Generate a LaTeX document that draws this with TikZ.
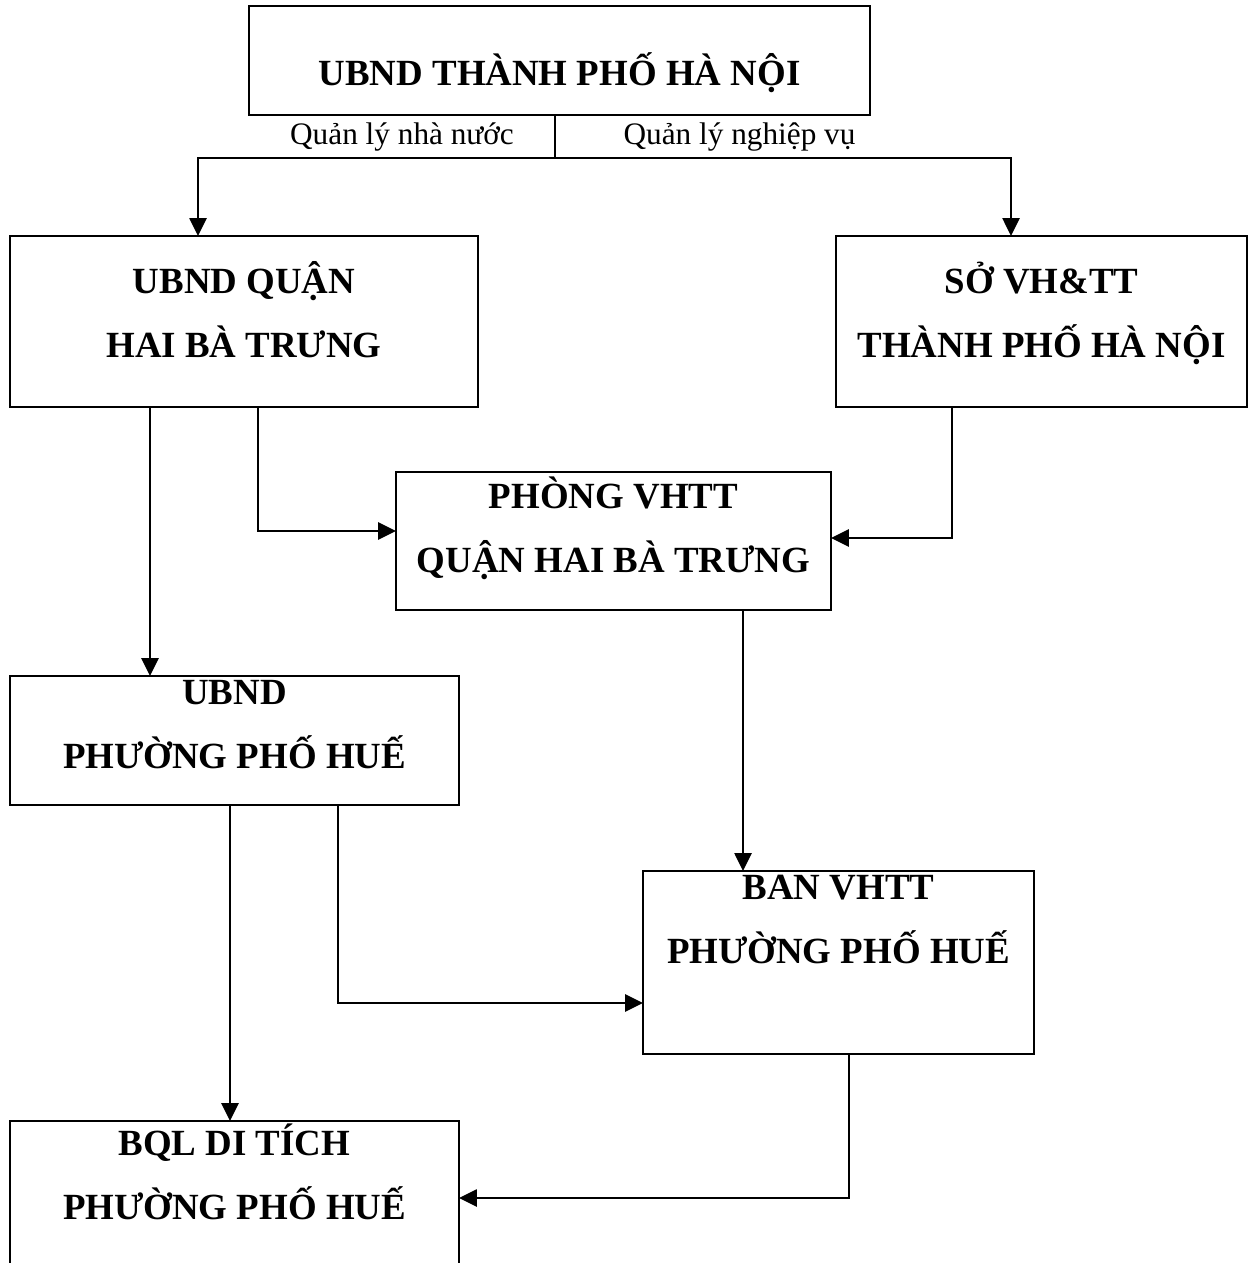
\documentclass[tikz,border=0pt]{standalone}
\usepackage{fontspec}
\setmainfont{Liberation Serif}
\usetikzlibrary{positioning,arrows.meta}

\tikzset{
	box/.style = {draw, line width = 1.6pt, inner sep = 0pt, outer sep = 0pt},
	txt/.style = {align = center, inner sep = 0pt, font = \fontsize{21}{36.4}\selectfont\bfseries, execute at begin node = \strut},
	lbl/.style = {inner sep = 0pt, anchor = base, font = \fontsize{17.8}{20}\selectfont},
	line/.style = {line width = 1.5pt},
	arr/.style = {line width = 1.5pt, -{Triangle[length = 0.36cm, width = 0.34cm]}}
}

\begin{document}
\begin{tikzpicture}[x = 0.02cm, y = -0.02cm]
				%	page
				\useasboundingbox (0, 0) rectangle (1249, 1263);
				
				%	boxes
				\node[box, minimum width = 12.42cm, minimum height = 2.18cm] (title) at (559.5, 60.5) {};
				\node[box, minimum width = 9.36cm, minimum height = 3.42cm] (quan) at (244, 321.5) {};
				\node[box, minimum width = 8.22cm, minimum height = 3.42cm] (so) at (1041.5, 321.5) {};
				\node[box, minimum width = 8.70cm, minimum height = 2.76cm] (phong) at (613.5, 541) {};
				\node[box, minimum width = 8.98cm, minimum height = 2.58cm] (phuong) at (234.5, 740.5) {};
				\node[box, minimum width = 7.82cm, minimum height = 3.66cm] (ban) at (838.5, 962.5) {};
				\node[box, minimum width = 8.98cm, minimum height = 3.38cm] (bql) at (234.5, 1205.5) {};
				
				%	texts
				\node[txt, below = 19.5pt of title.north] (titleT) {UBND THÀNH PHỐ HÀ NỘI};
				\node[txt, below = 14.4pt of quan.north] (quanT) {UBND QUẬN\\HAI BÀ TRƯNG};
				\node[txt, below = 14.4pt of so.north] (soT) {SỞ VH\&TT\\THÀNH PHỐ HÀ NỘI};
				\node[txt, below = 2.4pt of phong.north] (phongT) {PHÒNG VHTT\\QUẬN HAI BÀ TRƯNG};
				\node[txt, below = 2.4pt of phuong.north] (phuongT) {UBND\\PHƯỜNG PHỐ HUẾ};
				\node[txt, below = 2.4pt of ban.north] (banT) {BAN VHTT\\PHƯỜNG PHỐ HUẾ};
				\node[txt, below = 1.4pt of bql.north] (bqlT) {BQL DI TÍCH\\PHƯỜNG PHỐ HUẾ};
				
				\node[lbl] (nhanuoc) at (402, 145) {Quản lý nhà nước};
				\node[lbl] (nghiepvu) at (739.5, 145) {Quản lý nghiệp vụ};
				
				%	top split
				\coordinate (split) at (555, 158);
				\draw[line] (title.south -| split) -- (split);
				\draw[arr] (split) -| (quan.north -| 198, 0);
				\draw[arr] (split) -| (so.north -| 1011, 0);
				
				%	arrows
				\draw[arr] (quan.south -| 150, 0) -- (phuong.north -| 150, 0);
				\draw[arr] (quan.south -| 258, 0) |- (phong.west |- 0, 531);
				\draw[arr] (so.south -| 952, 0) |- (phong.east |- 0, 538);
				\draw[arr] (phong.south -| 743, 0) -- (ban.north -| 743, 0);
				\draw[arr] (phuong.south -| 230, 0) -- (bql.north -| 230, 0);
				\draw[arr] (phuong.south -| 338, 0) |- (ban.west |- 0, 1003);
				\draw[arr] (ban.south -| 849, 0) |- (bql.east |- 0, 1198);
\end{tikzpicture}
\end{document}
